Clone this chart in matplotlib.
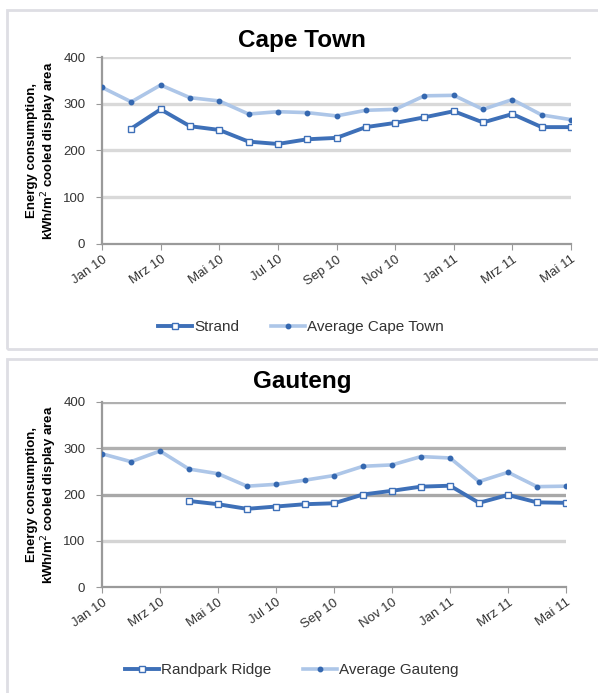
import matplotlib
matplotlib.use("Agg")
import matplotlib.pyplot as plt
from matplotlib.patches import Rectangle
from matplotlib.lines import Line2D

plt.rcParams['font.family'] = ['Liberation Sans', 'DejaVu Sans']

months = ['Jan 10', 'Feb 10', 'Mrz 10', 'Apr 10', 'Mai 10', 'Jun 10', 'Jul 10', 'Aug 10',
          'Sep 10', 'Okt 10', 'Nov 10', 'Dez 10', 'Jan 11', 'Feb 11', 'Mrz 11', 'Apr 11', 'Mai 11']

# Cape Town (Strand has no value for Jan 10)
strand = [None, 247, 288, 252, 244, 219, 214, 224, 227, 250, 259, 271, 284, 260, 278, 250, 250]
avg_cape_town = [335, 304, 340, 313, 306, 278, 283, 281, 274, 286, 288, 317, 318, 288, 309, 276, 266]

# Gauteng (Randpark Ridge starts in Apr 10)
randpark = [None, None, None, 186, 179, 169, 174, 179, 181, 200, 208, 217, 219, 182, 199, 183, 182]
avg_gauteng = [288, 271, 294, 255, 245, 218, 222, 231, 241, 261, 264, 282, 279, 228, 248, 217, 218]

W, H = 598, 693
fig = plt.figure(figsize=(W / 100, H / 100), dpi=100)
fig.patch.set_facecolor('white')

DARK = '#3e70b8'
LIGHT = '#adc6e8'
DOT = '#3568b0'


def px_axes(x0, y0, x1, y1):
    return fig.add_axes([x0 / W, 1 - y1 / H, (x1 - x0) / W, (y1 - y0) / H])


def panel(ax, title, site, avg, site_name, avg_name, grid_cols, title_y, legend_x, legend_y):
    xs = list(range(len(months)))
    sx = [x for x, v in zip(xs, site) if v is not None]
    sv = [v for v in site if v is not None]

    for y, c in zip([100, 200, 300, 400], grid_cols):
        ax.axhline(y, color=c, lw=2.4, zorder=1)

    ax.plot(xs, avg, color=LIGHT, lw=2.6, marker='o', ms=3.2, mfc=DOT, mec=DOT, zorder=3)
    ax.plot(sx, sv, color=DARK, lw=2.8, marker='s', ms=4.2, mfc='white', mec=DARK,
            mew=1.0, zorder=4)

    ax.set_xlim(0, len(months) - 1)
    ax.set_ylim(0, 400)
    ax.set_yticks([0, 100, 200, 300, 400])
    ax.set_xticks(xs[::2])
    ax.set_xticklabels(months[::2], rotation=35, ha='right', rotation_mode='anchor',
                       fontsize=9.5, color='#333333')
    ax.tick_params(axis='y', labelsize=9.5, labelcolor='#333333', length=4,
                   color='#999999', pad=8)
    ax.tick_params(axis='x', length=4, color='#999999', pad=3)
    for s in ['top', 'right']:
        ax.spines[s].set_visible(False)
    for s in ['left', 'bottom']:
        ax.spines[s].set_color('#9a9a9a')
        ax.spines[s].set_linewidth(1.6)

    ax.set_ylabel('Energy consumption,\nkWh/m$^2$ cooled display area', fontsize=9.5,
                  fontweight='bold', labelpad=3, linespacing=1.1)

    fig.text(302 / W, 1 - title_y / H, title, fontsize=17.5, fontweight='bold',
             ha='center', va='center')

    handles = [
        Line2D([], [], color=DARK, lw=2.8, marker='s', ms=4.2, mfc='white', mec=DARK),
        Line2D([], [], color=LIGHT, lw=2.6, marker='o', ms=3.2, mfc=DOT, mec=DOT),
    ]
    fig.legend(handles, [site_name, avg_name], loc='center',
               bbox_to_anchor=(legend_x / W, 1 - legend_y / H), ncol=2, frameon=False,
               fontsize=11, handlelength=2.2, handletextpad=0.15, columnspacing=2.1,
               labelcolor='#333333')


# panel frames
fig.patches.append(Rectangle((7 / W, 1 - 349 / H), 600 / W, 339 / H, transform=fig.transFigure,
                             fill=False, edgecolor='#dedee4', lw=2))
fig.patches.append(Rectangle((7 / W, 1 - 700 / H), 600 / W, 341 / H, transform=fig.transFigure,
                             fill=False, edgecolor='#dedee4', lw=2))

ax1 = px_axes(102, 57, 571, 244)
panel(ax1, 'Cape Town', strand, avg_cape_town, 'Strand', 'Average Cape Town',
      ['#d9d9d9'] * 4, 40, 301, 327)

ax2 = px_axes(102, 402, 566, 587)
panel(ax2, 'Gauteng', randpark, avg_gauteng, 'Randpark Ridge', 'Average Gauteng',
      ['#d4d4d4', '#a8a8a8', '#b0b0b0', '#b0b0b0'], 382, 292, 670)

fig.savefig('out.png', dpi=100, facecolor='white')
